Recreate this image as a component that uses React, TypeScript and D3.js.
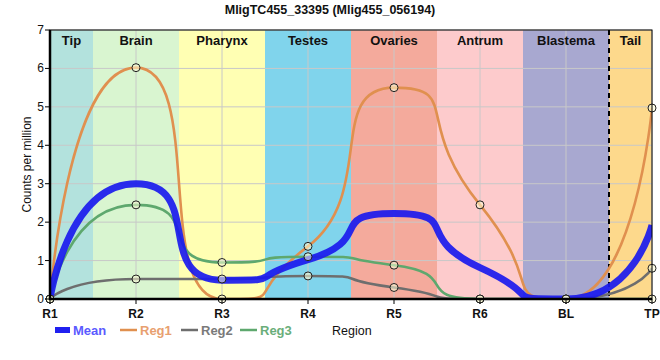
import React from "react";
import * as d3 from "d3";

const title = "MligTC455_33395 (Mlig455_056194)";
const categories = ["R1", "R2", "R3", "R4", "R5", "R6", "BL", "TP"];
const reg1 = [0, 6.02, 0, 1.37, 5.5, 2.45, 0, 4.97];
const reg2 = [0, 0.52, 0.52, 0.6, 0.3, 0, 0, 0.8];
const reg3 = [0, 2.45, 0.95, 1.1, 0.88, 0, 0, 0];
const meanVals = categories.map((_, i) => (reg1[i] + reg2[i] + reg3[i]) / 3);
const bandNames = ["Tip", "Brain", "Pharynx", "Testes", "Ovaries", "Antrum", "Blastema", "Tail"];
const bandColors = ["#b3e2dd", "#d9f5d0", "#ffffb3", "#80d4ec", "#f4aa9c", "#fdcbcc", "#a8a8d0", "#fdd98c"];
const yTicks = [0, 1, 2, 3, 4, 5, 6, 7];

const W = 660, H = 360;
const L = 50, R = 652, T = 30, B = 299;
const FONT = "'Liberation Sans', Arial, sans-serif";
const SMOOTH = 0.25;

type Pt = [number, number];

// Custom d3 curve: spline whose control points never create false extremes
function splineCurve(context: any) {
  let pts: Pt[] = [];
  return {
    areaStart() {},
    areaEnd() {},
    lineStart() { pts = []; },
    point(x: number, y: number) { pts.push([+x, +y]); },
    lineEnd() {
      const n = pts.length;
      if (!n) return;
      context.moveTo(pts[0][0], pts[0][1]);
      const den = SMOOTH + 1;
      const left: Pt[] = pts.map((p) => [p[0], p[1]]);
      const right: Pt[] = pts.map((p) => [p[0], p[1]]);
      for (let i = 1; i < n - 1; i++) {
        const [px, py] = pts[i];
        const [lx, ly] = pts[i - 1];
        const [nx, ny] = pts[i + 1];
        const lcx = (SMOOTH * px + lx) / den;
        let lcy = (SMOOTH * py + ly) / den;
        const rcx = (SMOOTH * px + nx) / den;
        let rcy = (SMOOTH * py + ny) / den;
        let corr = 0;
        if (rcx !== lcx) corr = ((rcy - lcy) * (rcx - px)) / (rcx - lcx) + py - rcy;
        lcy += corr;
        rcy += corr;
        if (lcy > ly && lcy > py) { lcy = Math.max(ly, py); rcy = 2 * py - lcy; }
        else if (lcy < ly && lcy < py) { lcy = Math.min(ly, py); rcy = 2 * py - lcy; }
        if (rcy > ny && rcy > py) { rcy = Math.max(ny, py); lcy = 2 * py - rcy; }
        else if (rcy < ny && rcy < py) { rcy = Math.min(ny, py); lcy = 2 * py - rcy; }
        left[i] = [lcx, lcy];
        right[i] = [rcx, rcy];
      }
      for (let i = 1; i < n; i++) {
        context.bezierCurveTo(right[i - 1][0], right[i - 1][1], left[i][0], left[i][1], pts[i][0], pts[i][1]);
      }
    },
  };
}

export default function App() {
  const x = d3.scalePoint<string>().domain(categories).range([L, R]);
  const y = d3.scaleLinear().domain([0, 7]).range([B, T]);
  const step = x.step();
  const line = d3
    .line<number>()
    .x((_, i) => x(categories[i]) as number)
    .y((d) => y(d))
    .curve(splineCurve as any);

  const series = [
    { name: "Reg1", vals: reg1, color: "#e0904f", text: "#e8a070" },
    { name: "Reg2", vals: reg2, color: "#6e6e6e", text: "#7a7a7a" },
    { name: "Reg3", vals: reg3, color: "#5ea86e", text: "#6aae7a" },
  ];

  const bands = bandNames.map((n, i) => {
    const cx = x(categories[i]) as number;
    const x0 = i === 0 ? L : cx - step / 2;
    const x1 = i === bandNames.length - 1 ? R : cx + step / 2;
    return { n, x0, x1, c: bandColors[i] };
  });
  const dashX = bands[bands.length - 1].x0;

  return (
    <svg width={W} height={H} style={{ position: "absolute", left: 0, top: 0 }} fontFamily={FONT}>
      <defs>
        <clipPath id="plotclip">
          <rect x={L} y={T} width={R - L} height={B - T} />
        </clipPath>
      </defs>
      <rect x={0} y={0} width={W} height={H} fill="#fff" />
      <text x={W / 2} y={14} textAnchor="middle" fontSize={12.5} fontWeight="bold" fill="#111">
        {title}
      </text>
      {bands.map((b) => (
        <rect key={b.n} x={b.x0} y={T} width={b.x1 - b.x0} height={B - T} fill={b.c} />
      ))}
      {yTicks.map((t) => (
        <line key={"gy" + t} x1={L} x2={R} y1={y(t)} y2={y(t)} stroke="#c8c8c8" strokeWidth={1} />
      ))}
      {categories.map((c) => (
        <line key={"gx" + c} x1={x(c)} x2={x(c)} y1={T} y2={B} stroke="#c8c8c8" strokeWidth={1} />
      ))}
      {bands.map((b) => (
        <text key={"bl" + b.n} x={(b.x0 + b.x1) / 2} y={45} textAnchor="middle" fontSize={13} fontWeight="bold" fill="#111">
          {b.n}
        </text>
      ))}
      <line x1={dashX} x2={dashX} y1={T} y2={B} stroke="#000" strokeWidth={2} strokeDasharray="5,4" />
      <g clipPath="url(#plotclip)">
        {series.map((s) => (
          <path key={s.name} d={line(s.vals) || ""} fill="none" stroke={s.color} strokeWidth={2.6} />
        ))}
        <path d={line(meanVals) || ""} fill="none" stroke="#1a1aee" strokeOpacity={0.92} strokeWidth={7} />
      </g>
      {series.map((s) =>
        s.vals.map((v, i) => (
          <circle key={s.name + i} cx={x(categories[i])} cy={y(v)} r={4} fill="rgba(255,255,215,0.55)" stroke="#222" strokeWidth={1} />
        ))
      )}
      <rect x={L} y={T} width={R - L} height={B - T} fill="none" stroke="#000" strokeWidth={1} />
      <line x1={L} x2={L} y1={T} y2={B + 1} stroke="#000" strokeWidth={2.5} />
      <line x1={L - 1} x2={R} y1={B} y2={B} stroke="#000" strokeWidth={2.5} />
      {yTicks.map((t) => (
        <g key={"yt" + t}>
          <line x1={L - 5} x2={L} y1={y(t)} y2={y(t)} stroke="#000" strokeWidth={1} />
          <text x={L - 6} y={y(t) + 4} textAnchor="end" fontSize={12} fill="#111">
            {t}
          </text>
        </g>
      ))}
      {categories.map((c) => (
        <g key={"xt" + c}>
          <line x1={x(c)} x2={x(c)} y1={B} y2={B + 5} stroke="#000" strokeWidth={1} />
          <text x={x(c)} y={B + 19} textAnchor="middle" fontSize={12} fontWeight="bold" fill="#111">
            {c}
          </text>
        </g>
      ))}
      <text transform={`translate(31,${(T + B) / 2}) rotate(-90)`} textAnchor="middle" fontSize={12} fill="#111">
        Counts per million
      </text>
      <g fontSize={13} fontWeight="bold">
        <rect x={55} y={327} width={15} height={6} fill="#2020f0" />
        <text x={73} y={335} fill="#5a5aff">Mean</text>
        {series.map((s, i) => {
          const sx = [120, 181, 240][i];
          return (
            <g key={"lg" + s.name}>
              <line x1={sx} x2={sx + 17} y1={330} y2={330} stroke={s.color} strokeWidth={2.5} />
              <text x={sx + 20} y={335} fill={s.text}>{s.name}</text>
            </g>
          );
        })}
      </g>
      <text x={332} y={335} fontSize={12.5} fill="#111">Region</text>
    </svg>
  );
}
